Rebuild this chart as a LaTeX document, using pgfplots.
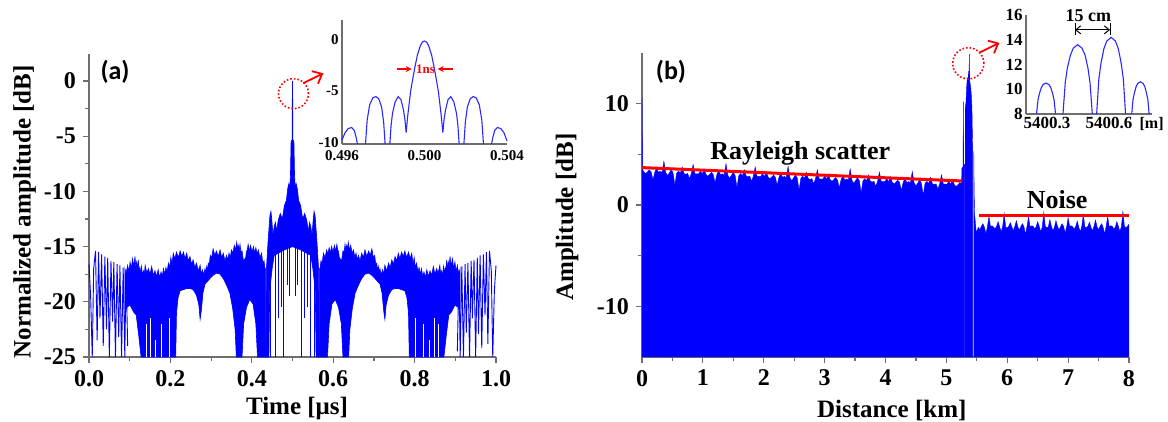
\documentclass[border=0pt]{standalone}
\usepackage{fontspec}
\setmainfont{Liberation Serif}
\newfontfamily\calfont{Carlito}
\usepackage{pgfplots}
\pgfplotsset{compat=1.18}
\usetikzlibrary{arrows.meta}

\definecolor{axgray}{RGB}{110,110,110}
\definecolor{sigblue}{RGB}{0,0,255}
\definecolor{insblue}{RGB}{40,40,255}

\pgfplotsset{
  mainax/.style={
    scale only axis, clip=false,
    axis lines=left,
    axis line style={-, draw=axgray, line width=0.7pt},
    x axis line style={-}, y axis line style={-},
    tick align=outside,
    major tick length=3pt, minor tick length=2pt,
    every tick/.style={axgray, line width=0.6pt},
    ticklabel style={font=\fontsize{12}{12}\selectfont\bfseries},
    /pgf/number format/assume math mode=true,
    label style={font=\fontsize{12.5}{13}\selectfont\bfseries},
  },
  insetax/.style={
    scale only axis, clip=false,
    axis lines=left,
    axis line style={-, draw=axgray, line width=0.7pt},
    x axis line style={-}, y axis line style={-},
    major tick length=0pt, minor tick length=0pt,
    /pgf/number format/assume math mode=true,
  },
}

\begin{document}
\begin{tikzpicture}
\useasboundingbox (0,0) rectangle (584pt,211pt);

% ---------------- (a) main
\begin{axis}[mainax,
  at={(44.5pt,32.5pt)}, anchor=south west,
  width=203.5pt, height=151.25pt,
  xmin=0, xmax=1, ymin=-25, ymax=2.4,
  xtick={0,0.2,...,1}, minor x tick num=1,
  xticklabel style={/pgf/number format/fixed, /pgf/number format/fixed zerofill, /pgf/number format/precision=1},
  ytick={-25,-20,...,0}, minor y tick num=1,
  xlabel={Time [μs]}, ylabel={Normalized amplitude [dB]},
  xlabel style={at={(axis description cs:0.511,-0.17)}, anchor=center},
  ylabel style={at={(axis description cs:-0.158,0.48)}, anchor=center},
]
% sparse edges
\addplot[sigblue, line width=0.45pt] coordinates {
(0,-16.6)(0.004,-19.5)(0.008,-25)(0.0115,-17)(0.016,-15.4)(0.020,-23.5)(0.0235,-15.5)(0.027,-21.5)
(0.031,-15.7)(0.035,-24)(0.039,-15.9)(0.043,-22.5)(0.046,-16.0)(0.050,-25)(0.054,-16.3)(0.058,-21.8)
(0.061,-16.4)(0.065,-25)(0.069,-16.6)(0.073,-23.2)(0.076,-16.7)(0.080,-25)(0.084,-16.9)(0.088,-25)
(0.091,-17.0)(0.095,-24)};
\addplot[sigblue, line width=0.45pt] coordinates {
(0.905,-24.5)(0.909,-17.1)(0.912,-25)(0.916,-16.8)(0.920,-25)(0.924,-16.6)(0.927,-22.8)(0.931,-16.5)
(0.935,-25)(0.939,-16.3)(0.942,-21.5)(0.946,-16.2)(0.950,-25)(0.954,-16.0)(0.957,-22.9)(0.961,-15.8)
(0.965,-24.2)(0.969,-15.7)(0.973,-21.2)(0.9765,-15.5)(0.980,-23.8)(0.984,-15.4)(0.9885,-17.2)(0.992,-25)
(0.996,-19)(1.0,-16.7)};
% dense left
\addplot[fill=sigblue, draw=sigblue, line width=0.3pt] coordinates {
(0.088,-17.0)(0.0915,-17.6)(0.095,-16.7)(0.098,-17.3)(0.101,-16.4)(0.104,-17.0)(0.107,-16.1)(0.110,-16.8)
(0.113,-15.9)(0.115,-16.9)(0.117,-16.4)(0.119,-17.0)(0.121,-16.2)(0.123,-17.2)(0.125,-16.9)(0.127,-17.5)
(0.129,-16.8)(0.1315,-17.6)(0.134,-17.2)(0.136,-17.5)(0.138,-16.7)(0.142,-17.4)(0.146,-17.0)(0.150,-17.5)
(0.154,-16.8)(0.158,-17.6)(0.162,-17.2)(0.166,-17.7)(0.170,-17.1)(0.1735,-17.8)(0.177,-17.3)(0.180,-17.7)
(0.183,-17.0)(0.186,-17.5)(0.189,-16.9)(0.192,-17.3)(0.195,-16.5)(0.198,-16.9)(0.201,-16.0)(0.204,-16.6)
(0.207,-15.6)(0.211,-16.1)(0.215,-15.5)(0.2195,-16.0)(0.224,-15.4)(0.228,-15.9)(0.232,-15.5)(0.236,-16.1)
(0.240,-15.6)(0.244,-16.3)(0.248,-15.9)(0.252,-16.6)(0.256,-16.2)(0.260,-16.9)(0.264,-16.5)(0.2685,-17.2)
(0.273,-16.7)(0.276,-17.5)(0.279,-17.1)(0.282,-17.6)(0.285,-17.0)(0.287,-17.4)(0.289,-16.8)(0.291,-17.2)
(0.293,-16.5)(0.2955,-16.6)(0.298,-15.8)(0.3015,-16.0)(0.305,-15.2)(0.309,-15.8)(0.313,-15.4)(0.3175,-15.9)
(0.322,-15.3)(0.326,-16.0)(0.330,-15.6)(0.334,-16.3)(0.338,-15.8)(0.341,-16.2)(0.344,-15.6)(0.347,-16.0)
(0.350,-15.3)(0.3535,-15.6)(0.357,-14.9)(0.360,-15.3)(0.363,-14.6)(0.365,-15.2)(0.367,-14.9)(0.369,-15.4)
(0.371,-14.8)(0.3735,-15.6)(0.376,-15.4)(0.3795,-16.3)(0.383,-16.1)(0.385,-16.0)(0.387,-15.4)(0.389,-15.3)
(0.391,-14.8)(0.394,-15.4)(0.397,-14.9)(0.4005,-15.5)(0.404,-15.0)(0.407,-15.6)(0.410,-15.1)(0.413,-15.7)
(0.416,-15.3)(0.420,-16.0)(0.424,-15.6)(0.427,-16.5)(0.430,-16.3)(0.432,-16.9)(0.434,-17.1)
(0.434,-25)(0.414,-25)(0.410,-22)(0.403,-20.2)(0.395,-19.8)(0.387,-20.5)(0.380,-22)(0.376,-25)
(0.362,-25)(0.359,-22.5)(0.353,-20.6)(0.346,-19.2)(0.338,-18.5)(0.330,-17.9)(0.322,-17.5)(0.313,-17.4)
(0.305,-17.6)(0.297,-17.9)(0.290,-18.2)(0.285,-18.4)(0.280,-19.2)(0.276,-20.8)(0.273,-21.6)(0.270,-20.3)
(0.264,-19.4)(0.256,-18.9)(0.248,-18.8)(0.240,-18.8)(0.232,-18.9)(0.224,-19.0)(0.219,-19.6)(0.215,-21)
(0.213,-25)(0.128,-25)(0.122,-23)(0.116,-21.2)(0.109,-20.9)(0.101,-20.3)(0.093,-20.5)(0.088,-21)} -- cycle;
% dense right
\addplot[fill=sigblue, draw=sigblue, line width=0.3pt] coordinates {
(0.566,-17.1)(0.568,-16.9)(0.570,-16.3)(0.573,-16.5)(0.576,-15.6)(0.580,-16.0)(0.584,-15.3)(0.587,-15.7)
(0.590,-15.1)(0.593,-15.6)(0.596,-15.0)(0.5995,-15.5)(0.603,-14.9)(0.606,-15.4)(0.609,-14.8)(0.611,-15.3)
(0.613,-15.4)(0.615,-16.0)(0.617,-16.1)(0.6205,-16.3)(0.624,-15.4)(0.6265,-15.6)(0.629,-14.8)(0.631,-15.4)
(0.633,-14.9)(0.635,-15.2)(0.637,-14.6)(0.640,-15.3)(0.643,-14.9)(0.6465,-15.6)(0.650,-15.3)(0.653,-16.0)
(0.656,-15.6)(0.659,-16.2)(0.662,-15.8)(0.666,-16.3)(0.670,-15.6)(0.674,-16.0)(0.678,-15.3)(0.6825,-15.9)
(0.687,-15.4)(0.691,-15.8)(0.695,-15.2)(0.6985,-16.0)(0.702,-15.8)(0.7045,-16.6)(0.707,-16.5)(0.709,-17.2)
(0.711,-16.8)(0.713,-17.4)(0.715,-17.0)(0.718,-17.6)(0.721,-17.1)(0.724,-17.5)(0.727,-16.7)(0.7315,-17.2)
(0.736,-16.5)(0.740,-16.9)(0.744,-16.2)(0.748,-16.6)(0.752,-15.9)(0.756,-16.3)(0.760,-15.6)(0.764,-16.1)
(0.768,-15.5)(0.772,-15.9)(0.776,-15.4)(0.7805,-16.0)(0.785,-15.5)(0.789,-16.1)(0.793,-15.6)(0.796,-16.6)
(0.799,-16.0)(0.802,-16.9)(0.805,-16.5)(0.808,-17.3)(0.811,-16.9)(0.814,-17.5)(0.817,-17.0)(0.820,-17.7)
(0.823,-17.3)(0.8265,-17.8)(0.830,-17.1)(0.834,-17.7)(0.838,-17.2)(0.842,-17.6)(0.846,-16.8)(0.850,-17.5)
(0.854,-17.0)(0.858,-17.4)(0.862,-16.7)(0.864,-17.5)(0.866,-17.2)(0.8685,-17.6)(0.871,-16.8)(0.873,-17.5)
(0.875,-16.9)(0.877,-17.2)(0.879,-16.2)(0.881,-17.0)(0.883,-16.4)(0.885,-16.9)(0.887,-15.9)(0.890,-16.8)
(0.893,-16.1)(0.896,-17.0)(0.899,-16.4)(0.902,-17.3)(0.905,-16.7)(0.9085,-17.6)(0.912,-17.0)
(0.912,-21)(0.907,-20.5)(0.899,-20.3)(0.891,-20.9)(0.884,-21.2)(0.878,-23)(0.872,-25)(0.787,-25)
(0.785,-21)(0.781,-19.6)(0.776,-19.0)(0.768,-18.9)(0.760,-18.8)(0.752,-18.8)(0.744,-18.9)(0.736,-19.4)
(0.730,-20.3)(0.727,-21.6)(0.724,-20.8)(0.720,-19.2)(0.715,-18.4)(0.710,-18.2)(0.703,-17.9)(0.695,-17.6)
(0.687,-17.4)(0.678,-17.5)(0.670,-17.9)(0.662,-18.5)(0.654,-19.2)(0.647,-20.6)(0.641,-22.5)(0.638,-25)
(0.624,-25)(0.620,-22)(0.613,-20.5)(0.605,-19.8)(0.597,-20.2)(0.590,-22)(0.586,-25)(0.566,-25)} -- cycle;
% centre
\addplot[fill=sigblue, draw=sigblue, line width=0.3pt] coordinates {
(0.434,-25)(0.436,-17)(0.440,-14.5)(0.4445,-12.2)(0.447,-11.8)(0.449,-12.5)(0.452,-14)(0.455,-13.2)
(0.458,-12.8)(0.461,-13.6)(0.465,-12.6)(0.470,-12.0)(0.475,-12.5)(0.480,-11.3)(0.485,-10.8)(0.488,-9.8)
(0.491,-9.3)(0.493,-10)(0.495,-8.5)(0.4965,-5.5)(0.499,-5.3)(0.4996,-1)(0.5,0)(0.5004,-1)(0.501,-5.3)
(0.5035,-5.5)(0.505,-8.5)(0.507,-10)(0.509,-9.3)(0.512,-9.8)(0.515,-10.8)(0.520,-11.3)(0.525,-12.5)
(0.530,-12)(0.535,-12.6)(0.539,-13.6)(0.542,-12.8)(0.545,-13.2)(0.548,-14)(0.551,-12.5)(0.553,-11.8)
(0.5555,-12.2)(0.560,-14.5)(0.564,-17)(0.566,-25)
(0.558,-25)(0.556,-19)(0.550,-17)(0.545,-15.8)(0.520,-15.3)(0.500,-15.0)(0.480,-15.3)(0.455,-15.8)
(0.450,-17)(0.444,-19)(0.442,-25)} -- cycle;
\addplot[sigblue, line width=0.5pt, unbounded coords=jump] coordinates {
(0.447,-15)(0.447,-25)(0.447,nan)(0.459,-15)(0.459,-25)(0.459,nan)(0.466,-15)(0.466,-21.5)(0.466,nan)
(0.472,-15)(0.472,-20.5)(0.472,nan)(0.478,-15)(0.478,-25)(0.478,nan)(0.487,-15)(0.487,-18.5)(0.487,nan)
(0.493,-15)(0.493,-19.5)(0.493,nan)(0.507,-15)(0.507,-19.5)(0.507,nan)(0.513,-15)(0.513,-18.5)(0.513,nan)
(0.523,-15)(0.523,-25)(0.523,nan)(0.530,-15)(0.530,-21.5)(0.530,nan)(0.536,-15)(0.536,-20.5)(0.536,nan)
(0.543,-15)(0.543,-25)(0.543,nan)(0.553,-15)(0.553,-25)};
\addplot[white, line width=0.5pt, unbounded coords=jump] coordinates {
(0.141,-25)(0.141,-22)(0.141,nan)(0.152,-25)(0.152,-21.5)(0.152,nan)(0.163,-25)(0.163,-23.5)(0.163,nan)
(0.177,-25)(0.177,-22)(0.177,nan)(0.197,-25)(0.197,-21.5)(0.197,nan)
(0.803,-25)(0.803,-21.5)(0.803,nan)(0.823,-25)(0.823,-22)(0.823,nan)(0.837,-25)(0.837,-23.5)(0.837,nan)
(0.848,-25)(0.848,-21.5)(0.848,nan)(0.859,-25)(0.859,-22)};
\node[font=\calfont\bfseries\fontsize{13}{13}\selectfont] at (axis cs:0.064,0.8) {(a)};
\draw[red, densely dotted, line width=0.8pt] (axis cs:0.5025,-1.15) circle[radius=7.5pt];
\draw[red, line width=0.9pt, -{Straight Barb[length=4pt,width=7pt]}] (axis cs:0.5265,-0.2) -- (axis cs:0.5757,0.7);
\end{axis}

% ---------------- (a) inset
\begin{axis}[insetax,
  at={(171pt,139pt)}, anchor=south west,
  width=82.5pt, height=61.8pt,
  xmin=-4, xmax=4, ymin=-10, ymax=2,
  xtick={-4,0,4}, xticklabels={0.496,0.500,0.504},
  ytick={-10,-5,0},
  ticklabel style={font=\fontsize{7.5}{7.5}\selectfont\bfseries, inner sep=1.5pt},
  xticklabel style={yshift=-1.8pt},
  yticklabel style={yshift=0.8pt},
]
\addplot[insblue, line width=0.55pt] coordinates {
(-1.68,-10)(-1.62,-8.2)(-1.55,-7.0)(-1.42,-5.9)(-1.28,-5.4)(-1.14,-5.7)(-1.02,-6.7)(-0.95,-7.6)(-0.89,-8.9)
(-0.82,-7.4)(-0.68,-5.0)(-0.58,-3.8)(-0.48,-2.7)(-0.35,-1.4)(-0.20,-0.45)(-0.10,-0.1)(0,0)
(0.10,-0.1)(0.20,-0.45)(0.35,-1.4)(0.48,-2.7)(0.58,-3.8)(0.68,-5.0)(0.82,-7.4)(0.89,-8.9)
(0.95,-7.6)(1.02,-6.7)(1.14,-5.7)(1.28,-5.4)(1.42,-5.9)(1.55,-7.0)(1.62,-8.2)(1.68,-10)};
\addplot[insblue, line width=0.55pt] coordinates {
(-2.86,-10)(-2.78,-7.7)(-2.66,-6.2)(-2.50,-5.5)(-2.36,-5.4)(-2.22,-5.6)(-2.08,-6.4)(-1.98,-7.9)(-1.91,-10)};
\addplot[insblue, line width=0.55pt] coordinates {
(1.91,-10)(1.98,-7.9)(2.08,-6.4)(2.22,-5.6)(2.36,-5.4)(2.50,-5.5)(2.66,-6.2)(2.78,-7.7)(2.86,-10)};
\addplot[insblue, line width=0.55pt] coordinates {
(-4.0,-9.6)(-3.85,-8.9)(-3.70,-8.5)(-3.53,-8.4)(-3.40,-8.7)(-3.31,-9.4)(-3.25,-10)};
\addplot[insblue, line width=0.55pt] coordinates {
(3.25,-10)(3.31,-9.4)(3.40,-8.7)(3.53,-8.4)(3.70,-8.5)(3.85,-8.9)(4.0,-9.7)};
\draw[red, line width=0.8pt, -{Stealth[length=3pt,width=3pt]}] (axis cs:-1.35,-2.72) -- (axis cs:-0.62,-2.72);
\draw[red, line width=0.8pt, -{Stealth[length=3pt,width=3pt]}] (axis cs:1.37,-2.72) -- (axis cs:0.64,-2.72);
\node[red, font=\fontsize{6.5}{6.5}\selectfont\bfseries, inner sep=0.5pt] at (axis cs:0.05,-2.72) {1ns};
\end{axis}

% ---------------- (b) main
\begin{axis}[mainax,
  at={(321pt,32.5pt)}, anchor=south west,
  width=243.5pt, height=152pt,
  xmin=0, xmax=8, ymin=-15, ymax=15,
  xtick={0,1,...,8}, minor x tick num=1,
  ytick={-10,0,10}, minor y tick num=1,
  xlabel={Distance [km]}, ylabel={Amplitude [dB]},
  xlabel style={at={(axis description cs:0.513,-0.175)}, anchor=center},
  ylabel style={at={(axis description cs:-0.154,0.46)}, anchor=center},
]
\addplot[fill=sigblue, draw=sigblue, line width=0.2pt] coordinates {
(0,-15)(0,10.6)(0.008,3.5)(0.03,3.29)(0.06,3.09)(0.09,3.27)(0.12,3.47)(0.15,3.26)(0.18,2.46)(0.21,3.24)
(0.24,3.64)(0.27,3.23)(0.30,3.33)(0.33,3.21)(0.36,4.31)(0.39,3.20)(0.42,2.90)(0.45,3.18)(0.48,3.48)
(0.51,3.17)(0.54,1.97)(0.57,3.15)(0.60,3.35)(0.63,3.14)(0.66,3.74)(0.69,3.12)(0.72,3.02)(0.75,3.11)
(0.78,2.61)(0.81,3.09)(0.84,3.99)(0.87,3.08)(0.90,3.08)(0.93,3.06)(0.96,3.36)(0.99,3.05)(1.02,3.55)
(1.05,3.03)(1.08,2.83)(1.11,3.02)(1.14,3.22)(1.17,3.00)(1.20,2.20)(1.23,2.99)(1.26,3.39)(1.29,2.97)
(1.32,3.07)(1.35,2.96)(1.38,4.06)(1.41,2.94)(1.44,2.64)(1.47,2.93)(1.50,3.23)(1.53,2.91)(1.56,1.71)
(1.59,2.90)(1.62,3.10)(1.65,2.88)(1.68,3.48)(1.71,2.87)(1.74,2.77)(1.77,2.85)(1.80,2.35)(1.83,2.84)
(1.86,3.74)(1.89,2.82)(1.92,2.82)(1.95,2.81)(1.98,3.11)(2.01,2.79)(2.04,3.29)(2.07,2.78)(2.10,2.58)
(2.13,2.76)(2.16,2.96)(2.19,2.75)(2.22,1.95)(2.25,2.73)(2.28,3.13)(2.31,2.72)(2.34,2.82)(2.37,2.70)
(2.40,3.80)(2.43,2.69)(2.46,2.39)(2.49,2.67)(2.52,2.97)(2.55,2.66)(2.58,1.46)(2.61,2.64)(2.64,2.84)
(2.67,2.63)(2.70,3.23)(2.73,2.61)(2.76,2.51)(2.79,2.60)(2.82,2.10)(2.85,2.58)(2.88,3.48)(2.91,2.57)
(2.94,2.57)(2.97,2.55)(3.00,2.85)(3.03,2.54)(3.06,3.04)(3.09,2.52)(3.12,2.32)(3.15,2.51)(3.18,2.71)
(3.21,2.49)(3.24,1.69)(3.27,2.48)(3.30,2.88)(3.33,2.46)(3.36,2.56)(3.39,2.45)(3.42,3.55)(3.45,2.43)
(3.48,2.13)(3.51,2.42)(3.54,2.72)(3.57,2.40)(3.60,1.20)(3.63,2.39)(3.66,2.59)(3.69,2.37)(3.72,2.97)
(3.75,2.36)(3.78,2.26)(3.81,2.34)(3.84,1.84)(3.87,2.33)(3.90,3.23)(3.93,2.31)(3.96,2.31)(3.99,2.30)
(4.02,2.60)(4.05,2.28)(4.08,2.78)(4.11,2.27)(4.14,2.07)(4.17,2.25)(4.20,2.45)(4.23,2.24)(4.26,1.44)
(4.29,2.22)(4.32,2.62)(4.35,2.21)(4.38,2.31)(4.41,2.19)(4.44,3.29)(4.47,2.18)(4.50,1.88)(4.53,2.16)
(4.56,2.46)(4.59,2.15)(4.62,0.95)(4.65,2.13)(4.68,2.33)(4.71,2.12)(4.74,2.72)(4.77,2.10)(4.80,2.00)
(4.83,2.09)(4.86,1.59)(4.89,2.07)(4.92,2.97)(4.95,2.06)(4.98,2.06)(5.01,2.04)(5.04,2.34)(5.07,2.03)
(5.10,2.53)(5.13,2.01)(5.16,1.81)(5.19,2.00)(5.22,2.20)(5.25,2.1)(5.255,3.6)(5.274,3.8)(5.279,10.2)
(5.284,3.8)(5.30,4.0)(5.30,-15)} -- cycle;
\addplot[fill=sigblue, draw=sigblue, line width=0.2pt] coordinates {
(5.31,-15)(5.31,9.6)(5.322,10.1)(5.333,11.6)(5.345,12.6)(5.355,11.8)(5.365,13.2)(5.372,12.4)(5.377,14.9)
(5.382,12.3)(5.39,12.0)(5.40,11.6)(5.41,10.8)(5.42,9.6)(5.427,7.0)(5.432,5.3)(5.432,-15)} -- cycle;
\addplot[fill=sigblue, draw=sigblue, line width=0.2pt] coordinates {
(5.45,-15)(5.45,5.3)(5.456,1.4)(5.463,-0.9)(5.475,-1.6)(5.49,-2.7)(5.50,-2.6)(5.525,-2.2)(5.55,-2.45)
(5.575,-2.1)(5.60,-1.85)(5.625,-2.2)(5.65,-2.85)(5.675,-2.1)(5.70,-1.15)(5.725,-2.15)(5.75,-2.05)
(5.775,-2.2)(5.80,-2.35)(5.825,-2.1)(5.85,-1.65)(5.875,-2.15)(5.90,-2.65)(5.925,-2.1)(5.95,-0.85)
(5.975,-2.2)(6.00,-2.25)(6.025,-2.1)(6.05,-1.75)(6.075,-2.15)(6.10,-2.55)(6.125,-2.1)(6.15,-1.55)
(6.175,-2.2)(6.20,-2.45)(6.225,-2.1)(6.25,-1.85)(6.275,-2.15)(6.30,-2.9)(6.325,-2.1)(6.35,-1.15)
(6.375,-2.2)(6.40,-2.05)(6.425,-2.1)(6.45,-2.35)(6.475,-2.15)(6.50,-1.65)(6.525,-2.1)(6.55,-2.65)
(6.575,-2.2)(6.60,-0.75)(6.625,-2.1)(6.65,-2.25)(6.675,-2.15)(6.70,-1.45)(6.725,-2.1)(6.75,-2.55)
(6.775,-2.2)(6.80,-1.55)(6.825,-2.1)(6.85,-2.45)(6.875,-2.15)(6.90,-1.85)(6.925,-2.1)(6.95,-2.75)
(6.975,-2.2)(7.00,-1.25)(7.025,-2.1)(7.05,-2.05)(7.075,-2.15)(7.10,-2.4)(7.125,-2.1)(7.15,-1.6)
(7.175,-2.2)(7.20,-2.65)(7.225,-2.1)(7.25,-0.95)(7.275,-2.15)(7.30,-2.25)(7.325,-2.1)(7.35,-1.7)
(7.375,-2.2)(7.40,-2.55)(7.425,-2.1)(7.45,-1.5)(7.475,-2.15)(7.50,-2.45)(7.525,-2.1)(7.55,-1.85)
(7.575,-2.2)(7.60,-2.85)(7.625,-2.1)(7.65,-1.15)(7.675,-2.15)(7.70,-2.05)(7.725,-2.1)(7.75,-2.35)
(7.775,-2.2)(7.80,-1.65)(7.825,-2.1)(7.85,-2.6)(7.875,-2.15)(7.90,-0.65)(7.925,-2.1)(7.95,-2.25)
(7.975,-2.1)(8.0,-1.9)(8.0,-15)} -- cycle;
\addplot[red, line width=1.5pt] coordinates {(0,3.69)(5.26,2.37)};
\addplot[red, line width=1.5pt] coordinates {(5.54,-1.05)(8.0,-1.05)};
\node[font=\calfont\bfseries\fontsize{13}{13}\selectfont] at (axis cs:0.476,13.1) {(b)};
\node[font=\fontsize{13}{13}\selectfont\bfseries] at (axis cs:2.6,5.1) {Rayleigh scatter};
\node[font=\fontsize{13}{13}\selectfont\bfseries] at (axis cs:6.82,0.5) {Noise};
\draw[red, densely dotted, line width=0.8pt] (axis cs:5.36,13.98) circle[radius=7.8pt];
\draw[red, line width=0.9pt, -{Straight Barb[length=4pt,width=7pt]}] (axis cs:5.541,15.03) -- (axis cs:5.87,16.0);
\end{axis}

% ---------------- (b) inset
\begin{axis}[insetax,
  at={(513pt,154pt)}, anchor=south west,
  width=63pt, height=49.5pt,
  xmin=0.198, xmax=0.808, ymin=8, ymax=16,
  xtick={0.3,0.6}, xticklabels={5400.3,5400.6},
  ytick={8,10,...,16},
  ticklabel style={font=\fontsize{8.5}{8.5}\selectfont\bfseries, inner sep=1.5pt},
]
\addplot[insblue, line width=0.55pt] coordinates {
(0.249,8)(0.256,9.13)(0.263,9.65)(0.272,10.13)(0.281,10.38)(0.295,10.5)(0.309,10.38)(0.318,10.13)
(0.327,9.65)(0.334,9.13)(0.341,8)};
\addplot[insblue, line width=0.55pt] coordinates {
(0.377,8)(0.388,10.52)(0.398,11.70)(0.413,12.76)(0.427,13.32)(0.448,13.6)(0.469,13.32)(0.484,12.76)
(0.498,11.70)(0.508,10.52)(0.519,8)};
\addplot[insblue, line width=0.55pt] coordinates {
(0.540,8)(0.5505,10.79)(0.561,12.09)(0.575,13.27)(0.589,13.89)(0.610,14.2)(0.631,13.89)(0.645,13.27)
(0.659,12.09)(0.6695,10.79)(0.680,8)};
\addplot[insblue, line width=0.55pt] coordinates {
(0.710,8)(0.716,9.17)(0.723,9.72)(0.731,10.21)(0.739,10.47)(0.752,10.6)(0.765,10.47)(0.773,10.21)
(0.781,9.72)(0.788,9.17)(0.794,8)};
\draw[black, line width=0.4pt] (axis cs:0.435,14.38) -- (axis cs:0.435,15.38);
\draw[black, line width=0.4pt] (axis cs:0.605,14.38) -- (axis cs:0.605,15.38);
\draw[black, line width=0.5pt, {Straight Barb[length=2.5pt,width=4pt]}-{Straight Barb[length=2.5pt,width=4pt]}] (axis cs:0.435,14.8) -- (axis cs:0.605,14.8);
\node[font=\fontsize{9}{9}\selectfont\bfseries] at (axis cs:0.50,15.95) {15 cm};
\node[font=\fontsize{8}{8}\selectfont\bfseries, anchor=north, inner sep=1.5pt] at (axis cs:0.806,8) {[m]};
\end{axis}
\end{tikzpicture}
\end{document}
